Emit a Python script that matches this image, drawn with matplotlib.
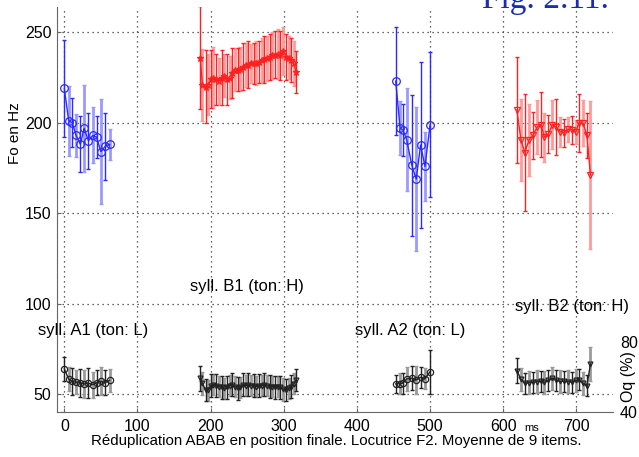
import numpy as np
import matplotlib
matplotlib.use("Agg")
import matplotlib.pyplot as plt

plt.rcParams['font.family'] = ['Liberation Sans', 'DejaVu Sans']

# ---------------- data ----------------
# syllable A1 (blue)
a1_ms = [0, 6, 11, 16, 22, 27, 33, 39, 44, 50, 56, 62]
a1_f0 = [219, 201, 200, 193, 188, 197, 190, 193, 192, 184, 187, 188]
a1_f0_err = [27, 19.5, 13.5, 12, 15.5, 24, 15.5, 15.5, 11.5, 29, 18.5, 8.5]
a1_oq = [64.6, 58.7, 57.4, 57, 56.4, 56, 56.4, 55.6, 56.7, 57.5, 56.7, 58.1]
a1_oq_err = [7, 7, 7.5, 7, 8, 8, 8.5, 7.5, 7, 8, 7, 6.5]

# syllable B1 (red)
b1_ms = [185.6, 188.8, 193, 196.6, 200.3, 203.9, 207.6, 211.2, 214.9, 218.6, 222.2,
         225.9, 229.5, 233.2, 236.9, 240.5, 244.2, 247.8, 251.5, 255.1, 258.8, 262.5,
         266.1, 269.8, 273.4, 277.1, 280.8, 284.4, 288.1, 291.7, 295.4, 299.5, 303.2,
         306.8, 310, 313.7, 316.9]
b1_f0 = [236, 221, 220, 221, 224, 225, 224, 223, 225, 226, 224, 225, 227.6, 229.4,
         229.4, 229.8, 231, 232, 232, 232.8, 232.8, 233, 233.6, 234.6, 235, 235.6,
         236.4, 237.3, 237.7, 238, 237.3, 239.7, 236.4, 236, 234.6, 232.8, 228]
b1_f0_err = [28.5, 20, 20, 17, 16, 17, 14, 13, 15, 12, 14, 12, 14, 12, 12, 12, 13, 12,
             13, 11, 11.5, 12, 11.5, 12, 13, 12.5, 12.5, 13, 13, 14, 13.5, 13.5, 12.5,
             12, 12, 12.5, 11.5]
b1_oq = [59.2, 56.4, 52.6, 52.5, 55, 55.5, 55, 54.5, 54, 53.5, 54, 55, 55.5, 54.5,
         53.5, 54, 55.5, 55, 55.5, 55, 55, 54.5, 55, 55, 55.5, 55, 54.5, 54.5, 54,
         54.5, 54, 53, 52.6, 53.5, 54.5, 56, 58.3]
b1_oq_err = [7, 6.5, 6.5, 6, 6.5, 6, 6.5, 6, 6.5, 6, 6.5, 6, 6.5, 6, 6.5, 6, 6.5, 6,
             6.5, 6, 6.5, 6, 6.5, 6, 6.5, 6, 6.5, 6, 6.5, 6, 6.5, 6.5, 6.5, 6, 6.5, 6, 6.5]

# syllable A2 (blue)
a2_ms = [453, 459, 463, 468, 475, 481, 487, 493, 500]
a2_f0 = [223, 197, 196, 190.5, 176.5, 168.8, 187.7, 175.8, 199]
a2_f0_err = [30, 15, 14.5, 28.5, 39, 40, 46, 19, 40]
a2_oq = [56, 56.2, 56.5, 58.9, 59.3, 58.3, 59.8, 59, 63]
a2_oq_err = [5, 6, 6, 7, 7, 8, 6, 6, 12.5]

# syllable B2 (red)
b2_ms = [618.7, 624.1, 629.6, 635.1, 640.6, 646.1, 651.6, 656.1, 661.6, 667.1,
         672.6, 678.1, 683.5, 689, 694.5, 699.2, 703.7, 709.2, 714.3, 719.2]
b2_f0 = [207, 190.5, 183.5, 190.5, 193, 197.5, 199, 192, 193.8, 199, 197.5, 195,
         194.5, 196.4, 196, 194.9, 200, 199.7, 193, 171]
b2_f0_err = [29.5, 22.5, 32.6, 20, 13, 15, 18, 13.5, 10.5, 13.3, 15.6, 8.2, 7.8,
             6.8, 7.5, 6.5, 16, 12.6, 12.5, 41]
b2_oq = [63.6, 58.7, 56.4, 56.7, 57, 57.3, 57.5, 57, 58, 59.3, 58, 57.5, 57.5, 57.3,
         57, 58, 58.5, 56.4, 54.9, 67.4]
b2_oq_err = [7, 6.5, 6, 6.5, 6, 6.5, 6, 6.5, 6, 6.5, 6, 6.5, 6, 6.5, 6, 6.5, 6, 6.5,
             6, 9.5]

x_ticks = [0, 100, 200, 300, 400, 500, 600, 700]
f0_ticks = [50, 100, 150, 200, 250]
oq_ticks = [40, 80]

labels = [("syll. A1 (ton: L)", 38, 330), ("syll. B1 (ton: H)", 190, 287),
          ("syll. A2 (ton: L)", 355, 330), ("syll. B2 (ton: H)", 515, 307)]

# ---------------- figure ----------------
W, H = 639, 457
fig = plt.figure(figsize=(W / 100, H / 100), dpi=100)
ax = fig.add_axes([57 / W, 45 / H, (613 - 57) / W, (450 - 45) / H])
ax.set_xlim(-10, 750)
ax.set_ylim(40, 264)
ax.set_xticks(x_ticks)
ax.set_yticks(f0_ticks)
ax.grid(True, linestyle=(0, (1, 3)), color='#333333', linewidth=0.9)
for s in ['top', 'right']:
    ax.spines[s].set_visible(False)
for s in ['left', 'bottom']:
    ax.spines[s].set_color('#666666')
ax.tick_params(direction='in', length=3, labelsize=11.5, pad=4, color='#666666')
ax.tick_params(axis='x', pad=5)

ax2 = ax.twinx()
ax2.set_ylim(40, 271)
ax2.set_yticks(oq_ticks)
for s in ax2.spines.values():
    s.set_visible(False)
ax2.tick_params(direction='in', length=0, labelsize=11.5, pad=5)


def series(a, x, y, e, color, light, marker, ms):
    x = np.asarray(x); y = np.asarray(y); e = np.asarray(e)
    a.errorbar(x[1::2], y[1::2], yerr=e[1::2], fmt='none', ecolor=light,
               elinewidth=2, capsize=1.5, capthick=1, zorder=2)
    a.errorbar(x[0::2], y[0::2], yerr=e[0::2], fmt='none', ecolor=color,
               elinewidth=1, capsize=1.5, capthick=1, zorder=2)
    a.plot(x, y, color=color, lw=1, marker=marker, ms=ms, mfc='none',
           mec=color, mew=0.9, zorder=3)


blue, lblue = '#2a2aff', '#9a9aff'
red, lred = '#ff2020', '#ff9a9a'
blk, gry = '#222222', '#9a9a9a'

series(ax, a1_ms, a1_f0, a1_f0_err, blue, lblue, 'o', 5.5)
series(ax, b1_ms, b1_f0, b1_f0_err, red, lred, '*', 4.5)
series(ax, a2_ms, a2_f0, a2_f0_err, blue, lblue, 'o', 5.5)
series(ax, b2_ms, b2_f0, b2_f0_err, red, lred, 'v', 4.5)

series(ax2, a1_ms, a1_oq, a1_oq_err, blk, gry, 'o', 4.5)
series(ax2, b1_ms, b1_oq, b1_oq_err, blk, gry, 'v', 3.5)
series(ax2, a2_ms, a2_oq, a2_oq_err, blk, gry, 'o', 4.5)
series(ax2, b2_ms, b2_oq, b2_oq_err, blk, gry, 'v', 3.5)


def px(x, y):
    return x / W, 1 - y / H


for txt, x, y in labels:
    fig.text(*px(x, y), txt, fontsize=12, ha='left', va='center')

fig.text(*px(15, 133), "Fo en Hz", rotation=90, fontsize=11, ha='center', va='center')
fig.text(*px(629, 377), "Oq (%)", rotation=90, fontsize=11.5, ha='center', va='center')
fig.text(*px(336, 441), "Réduplication ABAB en position finale. Locutrice F2. Moyenne de 9 items.",
         fontsize=10.8, ha='center', va='center')
fig.text(*px(532, 428), "ms", fontsize=8, ha='center', va='center')
fig.text(*px(609, 8), "Fig. 2.11.", fontsize=24, ha='right', va='baseline',
         color='#1a2db0', family=['Liberation Serif', 'DejaVu Serif'])

fig.savefig('out.png', dpi=100)
